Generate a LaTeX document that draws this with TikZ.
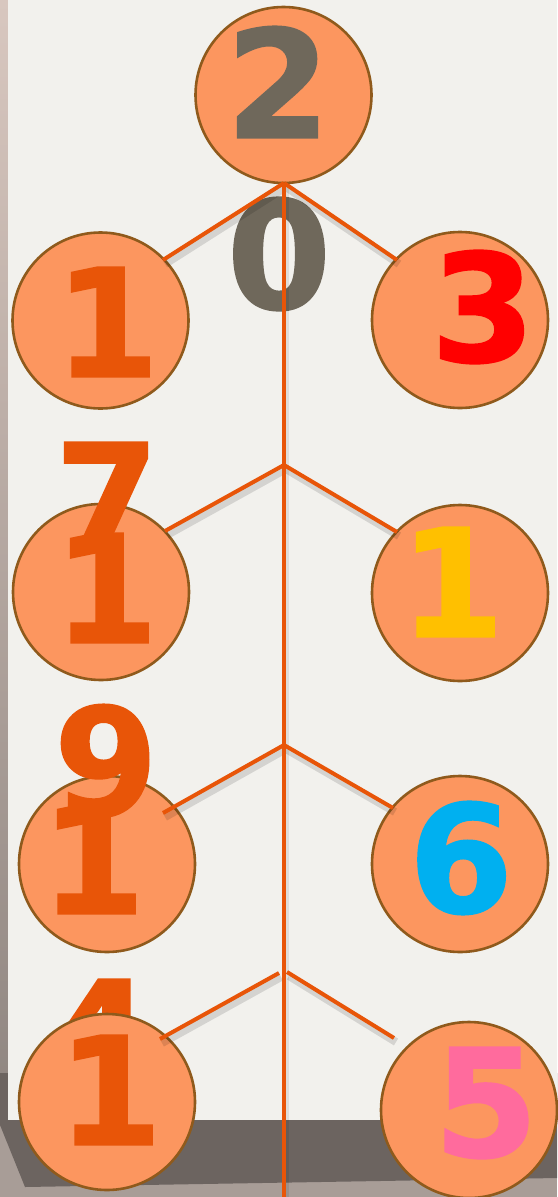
\documentclass[tikz,border=0pt]{standalone}
\usepackage{fontspec}
\setmainfont{DejaVu Sans}[BoldFeatures={FakeBold=1.2}]
\definecolor{paper}{HTML}{F2F1ED}
\definecolor{bgl}{HTML}{A89D97}
\definecolor{shd}{HTML}{6C6460}
\definecolor{stript}{HTML}{D8C7BF}
\definecolor{stripb}{HTML}{8E8580}
\definecolor{cfill}{HTML}{FC965F}
\definecolor{cdraw}{HTML}{8F5A1C}
\definecolor{lorange}{HTML}{E85508}
\definecolor{dgray}{HTML}{6F685B}
\definecolor{dred}{HTML}{FF0000}
\definecolor{dyellow}{HTML}{FFC000}
\definecolor{dblue}{HTML}{00B0F0}
\definecolor{dpink}{HTML}{FF6B9D}
\tikzset{
  ball/.style={circle, fill=cfill, draw=cdraw, line width=2.6pt, minimum size=176pt, inner sep=0pt},
  dig/.style={font=\fontsize{150}{150}\selectfont\bfseries, inner sep=0pt},
  branch/.style={draw=lorange, line width=4pt},
  bshadow/.style={draw=black, opacity=0.12, line width=8pt, transform canvas={shift={(2pt,-4pt)}}},
  vshadow/.style={draw=black, opacity=0.08, line width=6pt, transform canvas={shift={(2pt,0pt)}}},
}
\begin{document}
\begin{tikzpicture}[x=1pt,y=-1pt]
\useasboundingbox (0,0) rectangle (557,1197);
% background and paper
\fill[bgl] (0,0) rectangle (557,1197);
\shade[top color=stript, bottom color=stripb] (0,0) rectangle (8,1125);
\fill[shd] (0,1073) -- (557,1073) -- (557,1178) -- (25,1187) -- (0,1125) -- cycle;
\fill[paper] (8,0) rectangle (557,1120);
% hidden digit
\node[dig, text=lorange] (d4) at (100,1034) {4};
% circles
\node[ball] (c0) at (283.5,95) {};
\node[ball] (l1) at (100.5,320.5) {};
\node[ball] (r1) at (460,320) {};
\node[ball] (l2) at (101,592) {};
\node[ball] (r2) at (460,593) {};
\node[ball] (l3) at (107,864) {};
\node[ball] (r3) at (460,864) {};
\node[ball] (l4) at (107,1102) {};
\node[ball] (r4) at (469,1110) {};
% digit under the line
\node[dig, text=dgray] (d0) at (279,254) {0};
% connector coordinates
\coordinate (top) at (284,183);
\coordinate (bot) at (284,1197);
\coordinate (a1) at (284,183);
\coordinate (a2) at (284,465);
\coordinate (a3) at (284,745);
\coordinate (a4l) at (279,973);
\coordinate (a4r) at (287,972);
\coordinate (e1l) at (163,260);
\coordinate (e1r) at (397,260);
\coordinate (e2l) at (165,531);
\coordinate (e2r) at (397,532);
\coordinate (e3l) at (163,813);
\coordinate (e3r) at (393,808);
\coordinate (e4l) at (160,1039);
\coordinate (e4r) at (394,1038);
% shadows
\draw[vshadow] (top) -- (bot);
\draw[bshadow] (a1) -- (e1l) (a1) -- (e1r);
\draw[bshadow] (a2) -- (e2l) (a2) -- (e2r);
\draw[bshadow] (a3) -- (e3l) (a3) -- (e3r);
\draw[bshadow] (a4l) -- (e4l) (a4r) -- (e4r);
% lines
\draw[branch] (top) -- (bot);
\draw[branch] (a1) -- (e1l) (a1) -- (e1r);
\draw[branch] (a2) -- (e2l) (a2) -- (e2r);
\draw[branch] (a3) -- (e3l) (a3) -- (e3r);
\draw[branch] (a4l) -- (e4l) (a4r) -- (e4r);
% digits
\node[dig, text=dgray] (d2) at (278,82) {2};
\node[dig, text=lorange] (t1) at (107,322) {1};
\node[dig, text=dred] (t3) at (483,307) {3};
\node[dig, text=lorange] (t2) at (106,588) {1};
\node[dig, text=lorange] (d7) at (107,497) {7};
\node[dig, text=dyellow] (u2) at (452,582) {1};
\node[dig, text=lorange] (t3l) at (93,859) {1};
\node[dig, text=lorange] (d9) at (106,761) {9};
\node[dig, text=dblue] (d6) at (461,858) {6};
\node[dig, text=lorange] (t4) at (110,1090) {1};
\node[dig, text=dpink] (d5) at (486,1103) {5};
\end{tikzpicture}
\end{document}
